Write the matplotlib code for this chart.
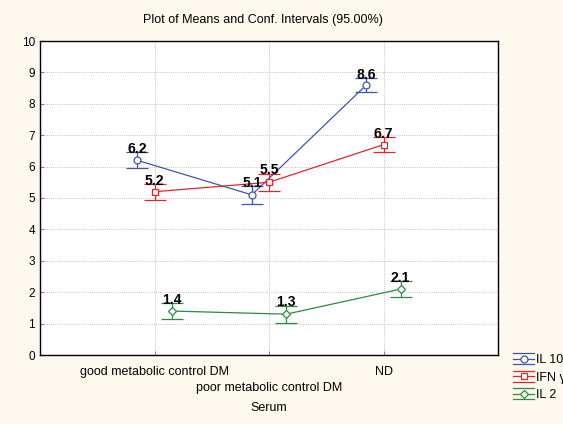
import matplotlib.pyplot as plt
import numpy as np
from matplotlib.legend_handler import HandlerBase
from matplotlib.lines import Line2D

groups = ["good metabolic control DM", "poor metabolic control DM", "ND"]
series_names = ["IL 10", "IFN γ", "IL 2"]
means = {
    "IL 10": [6.2, 5.1, 8.6],
    "IFN γ": [5.2, 5.5, 6.7],
    "IL 2": [1.4, 1.3, 2.1],
}
ci = {
    "IL 10": [0.25, 0.28, 0.23],
    "IFN γ": [0.25, 0.28, 0.25],
    "IL 2": [0.25, 0.27, 0.25],
}
colors = {"IL 10": "#3f55ad", "IFN γ": "#e0262a", "IL 2": "#2e8a3e"}
markers = {"IL 10": "o", "IFN γ": "s", "IL 2": "D"}
offsets = {"IL 10": -0.15, "IFN γ": 0.0, "IL 2": 0.15}

plt.rcParams["font.family"] = ["Liberation Sans", "DejaVu Sans"]


class ErrLegendHandler(HandlerBase):
    """Legend key: marker on a line, with cap lines above and below."""

    def create_artists(self, legend, orig_handle, xdescent, ydescent,
                       width, height, fontsize, trans):
        color, marker = orig_handle
        y0, y1 = -ydescent - 1, height - ydescent + 1
        ym = (y0 + y1) / 2
        arts = []
        for yy in (y0, ym, y1):
            arts.append(Line2D([-xdescent, width - xdescent], [yy, yy],
                               color=color, lw=0.9, transform=trans))
        arts.append(Line2D([width / 2 - xdescent], [ym], marker=marker,
                           ms=5 if marker != "D" else 4.5, mfc="white",
                           mec=color, mew=0.9, color=color, transform=trans))
        return arts


bg = "#fdf9ef"
fig = plt.figure(figsize=[5.63, 4.24], dpi=100, facecolor=bg)
ax = fig.add_axes([40 / 563, 1 - 355 / 424, 458 / 563, 314 / 424])
ax.set_facecolor("white")

x = np.arange(len(groups))
for name in series_names:
    xs = x + offsets[name]
    ax.errorbar(
        xs, means[name], yerr=ci[name],
        color=colors[name], lw=0.9, elinewidth=0.9,
        capsize=8, capthick=0.9,
        marker=markers[name], ms=5 if name != "IL 2" else 4.5,
        mfc="white", mec=colors[name], mew=0.9, zorder=3,
    )
    for xi, m, c in zip(xs, means[name], ci[name]):
        ax.text(xi, m + c - 0.12, f"{m:.1f}", ha="center", va="bottom",
                fontsize=10, fontweight="bold", color="black", zorder=4)

ax.set_xlim(-1, 3)
ax.set_ylim(0, 10)
ax.set_yticks(range(0, 11))
ax.set_xticks(x)
ax.set_xticklabels([groups[0], "\n" + groups[1], groups[2]], linespacing=1.45)
ax.tick_params(axis="y", labelsize=8.5)
ax.tick_params(axis="x", labelsize=9, pad=8)
ax.tick_params(axis="both", direction="in", length=3, color="#888888")
ax.grid(True, color="#c4c4c4", ls=(0, (1, 1.2)), lw=0.7)
for sp in ax.spines.values():
    sp.set_linewidth(1.0)
    sp.set_color("black")

fig.text(263 / 563, 1 - 20 / 424, "Plot of Means and Conf. Intervals (95.00%)",
         ha="center", va="center", fontsize=9)
fig.text(269 / 563, 1 - 408 / 424, "Serum", ha="center", va="center", fontsize=9)

keys = [(colors[n], markers[n]) for n in series_names]
leg = fig.legend(keys, series_names, loc="upper left",
                 handler_map={tuple: ErrLegendHandler()},
                 bbox_to_anchor=(513 / 563, 1 - 354 / 424),
                 frameon=False, fontsize=9, handlelength=1.7,
                 handleheight=0.6, handletextpad=0.1, labelspacing=0.45,
                 borderpad=0, borderaxespad=0)

fig.savefig("out.png", dpi=100, facecolor=bg)
